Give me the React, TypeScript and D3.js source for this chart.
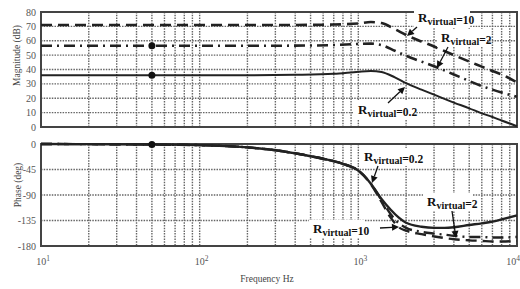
import React from "react";
import * as d3 from "d3";

// ---- data ----
const magFreqs = [10, 20, 50, 100, 200, 400, 700, 1000, 1200, 1400, 1700, 2000, 2500, 3000, 4000, 5000, 6000, 7000, 8000, 10000];
const magR10 = [71, 71, 71, 71, 71, 71, 71.3, 72, 73, 72.3, 68, 64, 59.5, 56, 50, 45.5, 42, 39, 36.5, 31];
const magR2 = [56.5, 56.5, 56.5, 56.5, 56.5, 56.6, 57, 57.8, 58, 57, 53, 49.5, 45.5, 42.3, 36.5, 32, 28.5, 26, 24, 21];
const magR02 = [36, 36, 36, 36, 36, 36.3, 37, 38.5, 39, 38.3, 34.5, 30.5, 26, 22.5, 17, 13, 9.5, 7, 4.5, 0.5];

const phFreqs = [10, 50, 100, 200, 300, 450, 600, 800, 1000, 1200, 1400, 1600, 1800, 2000, 2500, 3000, 3500, 4000, 5000, 6000, 7000, 8000, 10000];
const phR02 = [0, -1, -2, -6, -11, -19, -26, -35, -47, -70, -97, -116, -130, -139, -146, -148, -148, -147, -143, -140, -137, -133, -126];
const phR2 = [0, -1, -2, -6, -11, -19, -26, -35, -47, -70, -99, -124, -140, -148, -155, -158, -160, -162, -164, -164, -165, -165, -164];
const phR10 = [0, -1, -2, -6, -11, -19, -26, -35, -47, -71, -102, -130, -147, -153, -159, -163, -166, -168, -170, -171, -172, -172, -171];

const magTicks = [0, 10, 20, 30, 40, 50, 60, 70, 80];
const phTicks = [0, -45, -90, -135, -180];
const decadeExps = [1, 2, 3, 4];
const markerFreq = 50;

const magLabels = [
  { v: "10", tx: 418, ty: 22, ax1: 417, ay1: 27, ax2: 407, ay2: 36 },
  { v: "2", tx: 441, ty: 42, ax1: 448, ay1: 47, ax2: 437, ay2: 68 },
  { v: "0.2", tx: 358, ty: 114, ax1: 388, ay1: 103, ax2: 405, ay2: 87 },
];
const phLabels = [
  { v: "0.2", tx: 364, ty: 161, ax1: 378, ay1: 166, ax2: 372, ay2: 183 },
  { v: "2", tx: 427, ty: 206, ax1: 452, ay1: 211, ax2: 456, ay2: 238 },
  { v: "10", tx: 313, ty: 233, ax1: 380, ay1: 228, ax2: 399, ay2: 227 },
];

const W = 520;
const H = 289;
const L = 41;
const R = 517;
const magTop = 12, magBot = 127;
const phTop = 144, phBot = 246;

const serif = "'Liberation Serif', 'DejaVu Serif', serif";

function Arrow({ x1, y1, x2, y2 }: any) {
  const ang = Math.atan2(y2 - y1, x2 - x1);
  const len = 7, w = 3.5;
  const bx = x2 - len * Math.cos(ang), by = y2 - len * Math.sin(ang);
  const p1 = [bx + w * Math.sin(ang), by - w * Math.cos(ang)];
  const p2 = [bx - w * Math.sin(ang), by + w * Math.cos(ang)];
  return (
    <g>
      <line x1={x1} y1={y1} x2={bx} y2={by} stroke="#111" strokeWidth={1.3} />
      <polygon points={`${x2},${y2} ${p1[0]},${p1[1]} ${p2[0]},${p2[1]}`} fill="#111" />
    </g>
  );
}

function Label({ v, tx, ty }: any) {
  const w = 44 + v.length * 6;
  return (
    <g>
      <rect x={tx - 4} y={ty - 13} width={w} height={18} fill="#fff" />
      <text x={tx} y={ty} fontFamily={serif} fontWeight="bold" fill="#111">
        <tspan fontSize={13}>R</tspan>
        <tspan fontSize={10} dy={3}>virtual</tspan>
        <tspan fontSize={11.5} dy={-1.5}>={v}</tspan>
      </text>
    </g>
  );
}

export default function App() {
  const x = d3.scaleLog().domain([10, 10000]).range([L, R]);
  const yM = d3.scaleLinear().domain([0, 80]).range([magBot, magTop]);
  const yP = d3.scaleLinear().domain([-180, 0]).range([phBot, phTop]);

  const minorFreqs: number[] = [];
  for (let e = 1; e < 4; e++) for (let m = 1; m <= 9; m++) minorFreqs.push(m * Math.pow(10, e));
  minorFreqs.push(10000);

  const mk = (fs: number[], vs: number[], y: any) =>
    d3.line<number>().x((_, i) => x(fs[i])).y((v) => y(v)).curve(d3.curveMonotoneX)(vs) || "";

  const grid = (top: number, bot: number, yTicks: number[], y: any) => (
    <g>
      {minorFreqs.map((f, i) => (
        <line key={"v" + i} x1={x(f)} x2={x(f)} y1={top} y2={bot} stroke="#666" strokeWidth={1.4} strokeDasharray="1.5,1.2" />
      ))}
      {yTicks.map((t, i) => (
        <line key={"h" + i} x1={L} x2={R} y1={y(t)} y2={y(t)} stroke="#666" strokeWidth={1.4} strokeDasharray="1.5,1.2" />
      ))}
      <rect x={L} y={top} width={R - L} height={bot - top} fill="none" stroke="#444" strokeWidth={2} />
    </g>
  );

  const lineStyles = [
    { dash: "11,6", w: 2.6 },
    { dash: "11,5,2,5", w: 2.6 },
    { dash: "", w: 2 },
  ];

  return (
    <svg width={W} height={H} style={{ position: "absolute", left: 0, top: 0, background: "#fff" }}>
      <rect x={0} y={0} width={W} height={H} fill="#fff" />
      {grid(magTop, magBot, magTicks, yM)}
      {grid(phTop, phBot, phTicks, yP)}

      {/* magnitude curves */}
      {[magR10, magR2, magR02].map((vs, i) => (
        <path key={"m" + i} d={mk(magFreqs, vs, yM)} fill="none" stroke="#222" strokeWidth={lineStyles[i].w} strokeDasharray={lineStyles[i].dash || undefined} />
      ))}
      {/* phase curves */}
      {[phR10, phR2, phR02].map((vs, i) => (
        <path key={"p" + i} d={mk(phFreqs, vs, yP)} fill="none" stroke="#222" strokeWidth={2.4} strokeDasharray={lineStyles[i].dash || undefined} />
      ))}

      {/* markers */}
      <circle cx={x(markerFreq)} cy={yM(magR2[2])} r={3.5} fill="#111" />
      <circle cx={x(markerFreq)} cy={yM(magR02[2])} r={3.5} fill="#111" />
      <circle cx={x(markerFreq)} cy={yP(phR02[1])} r={3.5} fill="#111" />

      {/* y tick labels */}
      {magTicks.map((t) => (
        <text key={"mt" + t} x={36} y={yM(t) + 3.5} textAnchor="end" fontSize={10} fontFamily={serif} fill="#555">{t}</text>
      ))}
      {phTicks.map((t) => (
        <text key={"pt" + t} x={36} y={yP(t) + 3.5} textAnchor="end" fontSize={10} fontFamily={serif} fill="#555">{t}</text>
      ))}

      {/* x tick labels */}
      {decadeExps.map((e) => (
        <text key={"x" + e} x={x(Math.pow(10, e)) + (e === 4 ? -4 : 2)} y={265} textAnchor="middle" fontSize={10} fontFamily={serif} fill="#555">
          10<tspan fontSize={7.5} dy={-4}>{e}</tspan>
        </text>
      ))}

      {/* axis titles */}
      <text x={267} y={282} textAnchor="middle" fontSize={9.5} fontFamily={serif} fill="#444">Frequency Hz</text>
      <text transform={`translate(20,${(magTop + magBot) / 2 - 14}) rotate(-90)`} textAnchor="middle" fontSize={9.5} fontFamily={serif} fill="#444">Magnitude (dB)</text>
      <text transform={`translate(21,${(phTop + phBot) / 2 - 10}) rotate(-90)`} textAnchor="middle" fontSize={9.5} fontFamily={serif} fill="#444">Phase (deg)</text>

      {/* annotations */}
      {[...magLabels, ...phLabels].map((a, i) => (
        <g key={"a" + i}>
          <Label v={a.v} tx={a.tx} ty={a.ty} />
          <Arrow x1={a.ax1} y1={a.ay1} x2={a.ax2} y2={a.ay2} />
        </g>
      ))}
    </svg>
  );
}
